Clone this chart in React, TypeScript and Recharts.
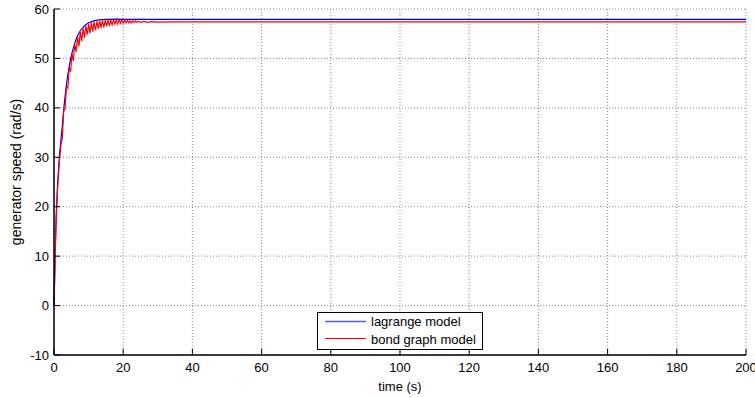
import React from 'react';
import { LineChart, Line, XAxis, YAxis, CartesianGrid, Legend } from 'recharts';

const xTicks = [0, 20, 40, 60, 80, 100, 120, 140, 160, 180, 200];
const yTicks = [-10, 0, 10, 20, 30, 40, 50, 60];

const lagrangeModel: [number, number][] = [
  [0, 0], [0.2, 6.5], [0.4, 12.5], [0.6, 17.5], [0.8, 21], [1.0, 24], [1.2, 26.5], [1.4, 28.5],
  [1.6, 30.5], [1.8, 32], [2.0, 33.5], [2.4, 36.3], [2.8, 39.7], [3.2, 42.3], [3.6, 44.7],
  [4.0, 46.7], [4.4, 48.4], [4.8, 49.9], [5.2, 51.1], [5.6, 52.1], [6.0, 53.1], [6.4, 53.9],
  [6.8, 54.6], [7.2, 55.1], [7.6, 55.6], [8.0, 56.0], [8.4, 56.3], [8.8, 56.6], [9.2, 56.8],
  [9.6, 57.0], [10, 57.2], [11, 57.5], [12, 57.7], [13, 57.8], [14, 57.85], [15, 57.9],
  [16, 57.9], [18, 57.95], [20, 57.9], [25, 57.9], [30, 57.9], [40, 57.9], [50, 57.9],
  [60, 57.9], [70, 57.9], [80, 57.9], [90, 57.9], [100, 57.9], [110, 57.9], [120, 57.9],
  [130, 57.9], [140, 57.9], [150, 57.9], [160, 57.9], [170, 57.9], [180, 57.9], [190, 57.9],
  [200, 57.9],
];

const bondGraphModel: [number, number][] = [
  [0, 0], [0.2, 5.5], [0.4, 11.5], [0.6, 16.5], [0.8, 20], [1.0, 23], [1.2, 25.5], [1.4, 27.5],
  [1.6, 29.5], [1.8, 31], [2.0, 32.5], [2.4, 33.8], [2.8, 39.3], [3.2, 39.8], [3.6, 44.3],
  [4.0, 44.0], [4.4, 48.1], [4.8, 47.3], [5.2, 50.9], [5.6, 49.5], [6.0, 52.9], [6.4, 51.3],
  [6.8, 54.4], [7.2, 52.5], [7.6, 55.4], [8.0, 53.5], [8.4, 56.1], [8.8, 54.2], [9.2, 56.6],
  [9.6, 54.8], [10.0, 57.0], [10.4, 55.1], [10.8, 57.2], [11.2, 55.4], [11.6, 57.4], [12.0, 55.7],
  [12.4, 57.5], [12.8, 56.0], [13.2, 57.6], [13.6, 56.2], [14.0, 57.7], [14.4, 56.3], [14.8, 57.7],
  [15.2, 56.5], [15.6, 57.8], [16.0, 56.6], [16.4, 57.8], [16.8, 56.8], [17.2, 57.8], [17.6, 56.9],
  [18.0, 57.8], [18.4, 57.0], [18.8, 57.8], [19.2, 57.1], [19.6, 57.8], [20.0, 57.1], [20.4, 57.7],
  [20.8, 57.2], [21.2, 57.7], [21.6, 57.2], [22.0, 57.6], [22.4, 57.2], [22.8, 57.6], [23.2, 57.3],
  [23.6, 57.6], [24.0, 57.3], [24.5, 57.5], [25, 57.3], [26, 57.5], [27, 57.3], [28, 57.45],
  [30, 57.35], [35, 57.4], [40, 57.4], [50, 57.4], [60, 57.4], [70, 57.4], [80, 57.4], [90, 57.4],
  [100, 57.4], [110, 57.4], [120, 57.4], [130, 57.4], [140, 57.4], [150, 57.4], [160, 57.4],
  [170, 57.4], [180, 57.4], [190, 57.4], [200, 57.4],
];

const lagrangeData = lagrangeModel.map(([t, v]) => ({ t, v }));
const bondData = bondGraphModel.map(([t, v]) => ({ t, v }));

const FONT = '"Liberation Sans", Arial, sans-serif';
const TICK_LEN = 6;

const BottomTick = (props: any) => {
  const { x, y, payload } = props;
  const axisY = y - 8;
  return (
    <g>
      <line x1={x} y1={axisY} x2={x} y2={axisY - TICK_LEN} stroke="#000" strokeWidth={1} />
      <text x={x} y={y} dy="0.71em" textAnchor="middle" fill="#000" fontSize={13} fontFamily={FONT}>
        {payload.value}
      </text>
    </g>
  );
};

const LeftTick = (props: any) => {
  const { x, y, payload } = props;
  const axisX = x + 5;
  return (
    <g>
      <line x1={axisX} y1={y} x2={axisX + TICK_LEN} y2={y} stroke="#000" strokeWidth={1} />
      <text x={x} y={y} dy="0.355em" textAnchor="end" fill="#000" fontSize={13} fontFamily={FONT}>
        {payload.value}
      </text>
    </g>
  );
};

const TopTick = (props: any) => {
  const { x, y } = props;
  return <line x1={x} y1={y} x2={x} y2={y + TICK_LEN} stroke="#000" strokeWidth={1} />;
};

const RightTick = (props: any) => {
  const { x, y } = props;
  return <line x1={x} y1={y} x2={x - TICK_LEN} y2={y} stroke="#000" strokeWidth={1} />;
};

const LegendBox = () => (
  <div
    style={{
      position: 'relative',
      width: 166,
      height: 38,
      boxSizing: 'border-box',
      border: '1px solid #000',
      background: '#fff',
      fontFamily: FONT,
      fontSize: 13,
      color: '#000',
    }}
  >
    <svg width={50} height={36} style={{ position: 'absolute', left: 0, top: 0 }}>
      <line x1={7} y1={8.5} x2={48} y2={8.5} stroke="#5a5aff" strokeWidth={1.5} />
      <line x1={7} y1={25.5} x2={48} y2={25.5} stroke="#ff0000" strokeWidth={1.2} />
    </svg>
    <div style={{ position: 'absolute', left: 53, top: 0, lineHeight: '17px', whiteSpace: 'nowrap' }}>lagrange model</div>
    <div style={{ position: 'absolute', left: 53, top: 17.5, lineHeight: '17px', whiteSpace: 'nowrap' }}>bond graph model</div>
  </div>
);

export default function App() {
  return (
    <div style={{ position: 'absolute', left: 0, top: 0, background: '#fff' }}>
      <LineChart width={755} height={398} margin={{ top: 9, right: 9, bottom: 0, left: 0 }}>
        <CartesianGrid stroke="#888" strokeDasharray="1 2" />
        <XAxis
          type="number"
          dataKey="t"
          domain={[0, 200]}
          ticks={xTicks}
          height={43}
          tickSize={0}
          tickMargin={8}
          axisLine={{ stroke: '#000', strokeWidth: 1.5 }}
          tickLine={false}
          tick={<BottomTick />}
          interval={0}
          label={{ value: 'time (s)', position: 'insideBottom', offset: 7, fill: '#000', fontSize: 13, fontFamily: FONT }}
        />
        <YAxis
          type="number"
          domain={[-10, 60]}
          ticks={yTicks}
          width={54}
          tickSize={0}
          tickMargin={5}
          axisLine={{ stroke: '#000', strokeWidth: 1.5 }}
          tickLine={false}
          tick={<LeftTick />}
          interval={0}
          label={{ value: 'generator speed (rad/s)', angle: -90, position: 'center', dx: -11, dy: -10, fill: '#000', fontSize: 14, fontFamily: FONT }}
        />
        <XAxis
          xAxisId="top"
          orientation="top"
          type="number"
          domain={[0, 200]}
          ticks={xTicks}
          height={0}
          tickSize={0}
          tickMargin={0}
          axisLine={{ stroke: '#000', strokeWidth: 1.5 }}
          tickLine={false}
          tick={<TopTick />}
          interval={0}
        />
        <YAxis
          yAxisId="right"
          orientation="right"
          type="number"
          domain={[-10, 60]}
          ticks={yTicks}
          width={0}
          tickSize={0}
          tickMargin={0}
          axisLine={{ stroke: '#000', strokeWidth: 2 }}
          tickLine={false}
          tick={<RightTick />}
          interval={0}
        />
        <Line
          data={lagrangeData}
          dataKey="v"
          name="lagrange model"
          type="linear"
          stroke="#0000ff"
          strokeWidth={1.2}
          dot={false}
          isAnimationActive={false}
        />
        <Line
          data={bondData}
          dataKey="v"
          name="bond graph model"
          type="linear"
          stroke="#ff0000"
          strokeWidth={1.2}
          dot={false}
          isAnimationActive={false}
        />
        <Legend
          layout="vertical"
          align="center"
          verticalAlign="middle"
          content={<LegendBox />}
          wrapperStyle={{ left: 317, top: 312, width: 166, height: 38 }}
        />
      </LineChart>
    </div>
  );
}
